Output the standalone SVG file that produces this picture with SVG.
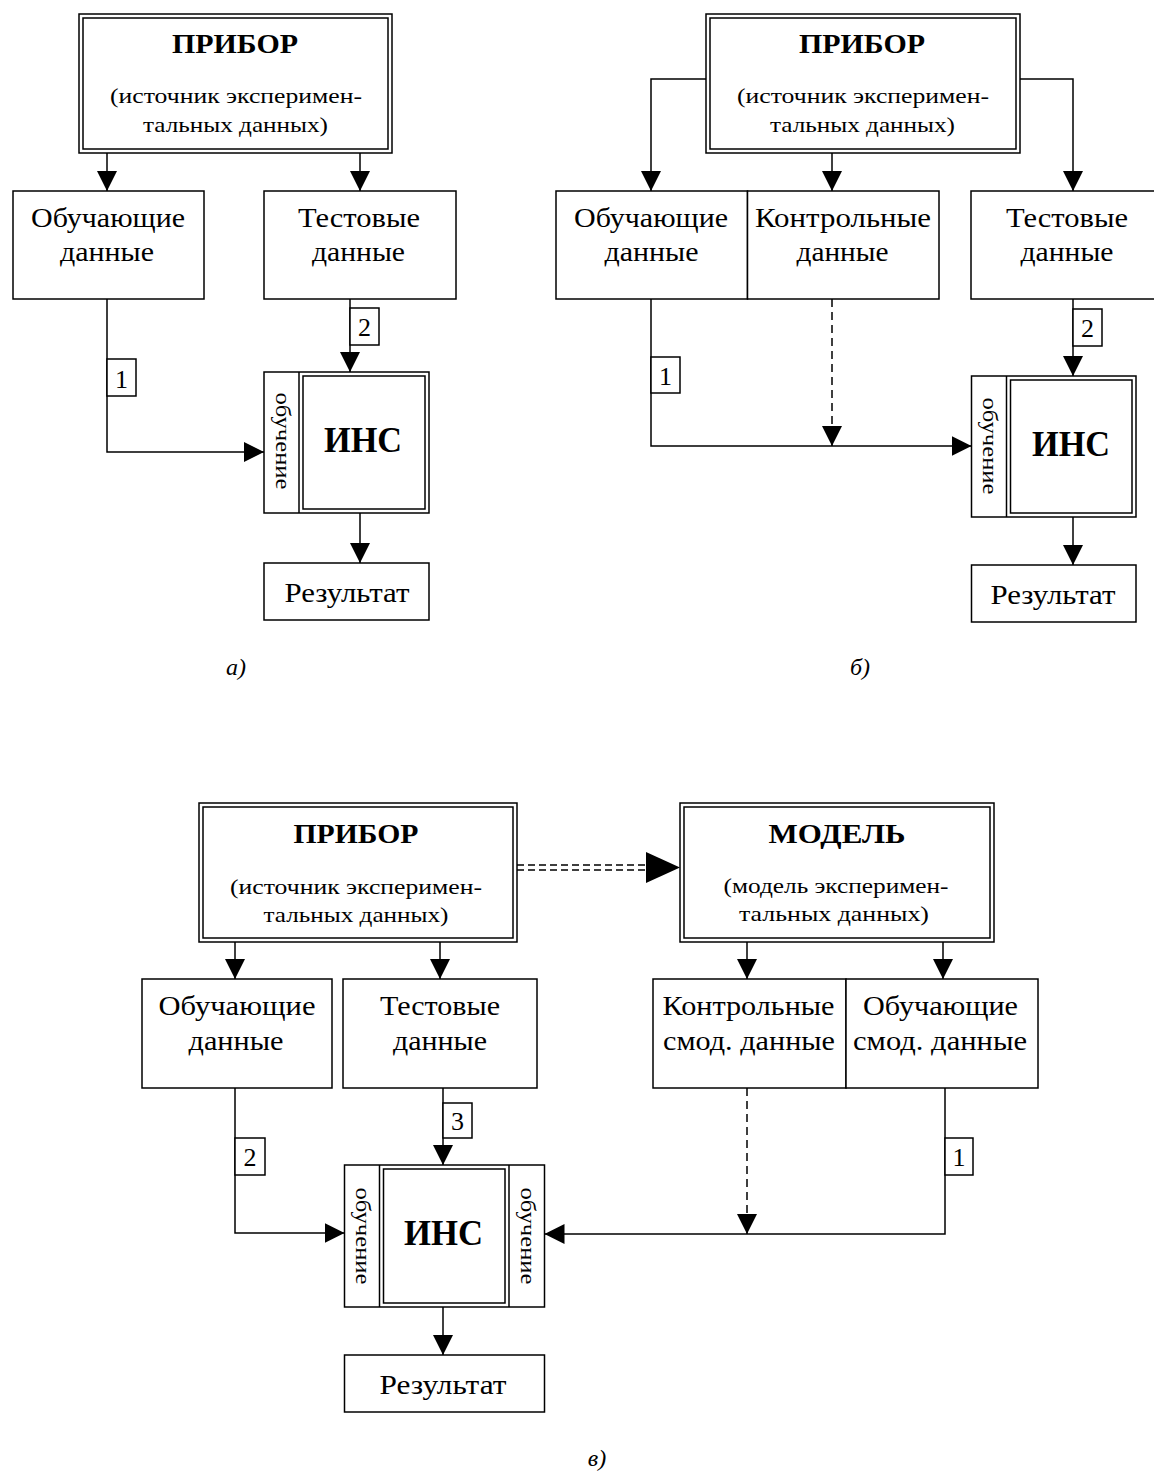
<svg xmlns="http://www.w3.org/2000/svg" width="1154" height="1474" viewBox="0 0 1154 1474">
<style>
.bx{fill:#fff;stroke:#000;stroke-width:1.5}
.ln{fill:none;stroke:#000;stroke-width:1.5}
.ds{stroke-dasharray:8 5}
text{font-family:"Liberation Serif","Times New Roman",serif;fill:#000;text-anchor:middle}
.ttl{font-size:28px;font-weight:bold}
.sub{font-size:22px}
.lbl{font-size:27px}
.ins{font-size:35px;font-weight:bold}
.rot{font-size:20px}
.num{font-size:26px}
.cap{font-size:24px;font-style:italic}
</style>
<defs>
<marker id="ah" markerWidth="20" markerHeight="20" refX="20" refY="10" orient="auto" markerUnits="userSpaceOnUse"><path d="M0,0 L20,10 L0,20 z" fill="#000"/></marker>
</defs>

<!-- ===== a) ===== -->
<g id="a-pribor">
<rect class="bx" x="79" y="14" width="313" height="139"/>
<rect class="bx" x="83" y="18" width="305" height="131"/>
<text class="ttl" x="235" y="53" textLength="126" lengthAdjust="spacingAndGlyphs">ПРИБОР</text>
<text class="sub" x="236" y="103" textLength="252" lengthAdjust="spacingAndGlyphs">(источник эксперимен-</text>
<text class="sub" x="235.5" y="132" textLength="185" lengthAdjust="spacingAndGlyphs">тальных данных)</text>
</g>
<g id="a-obuch">
<rect class="bx" x="13" y="191" width="191" height="108"/>
<text class="lbl" x="108" y="227" textLength="154" lengthAdjust="spacingAndGlyphs">Обучающие</text>
<text class="lbl" x="107" y="261" textLength="94" lengthAdjust="spacingAndGlyphs">данные</text>
</g>
<g id="a-test">
<rect class="bx" x="264" y="191" width="192" height="108"/>
<text class="lbl" x="359" y="227" textLength="122" lengthAdjust="spacingAndGlyphs">Тестовые</text>
<text class="lbl" x="358.5" y="261" textLength="93" lengthAdjust="spacingAndGlyphs">данные</text>
</g>
<g id="a-ins">
<rect class="bx" x="264" y="372" width="165" height="141"/>
<line class="ln" x1="299" y1="372" x2="299" y2="513"/>
<rect class="bx" x="303" y="376" width="122" height="133"/>
<text class="ins" x="363" y="452" textLength="78" lengthAdjust="spacingAndGlyphs">ИНС</text>
<text class="rot" transform="translate(281.5,441) rotate(90)" x="0" y="6" textLength="97" lengthAdjust="spacingAndGlyphs">обучение</text>
</g>
<g id="a-result">
<rect class="bx" x="264" y="563" width="165" height="57"/>
<text class="lbl" x="347" y="602" textLength="125" lengthAdjust="spacingAndGlyphs">Результат</text>
</g>
<g id="a-connectors">
<path class="ln" d="M107,153 V191" marker-end="url(#ah)"/>
<path class="ln" d="M360,153 V191" marker-end="url(#ah)"/>
<path class="ln" d="M107,299 V452 H264" marker-end="url(#ah)"/>
<path class="ln" d="M350,299 V372" marker-end="url(#ah)"/>
<path class="ln" d="M360,513 V563" marker-end="url(#ah)"/>
</g>
<g id="a-label-1">
<rect class="bx" x="107" y="359" width="29" height="37"/>
<text class="num" x="121.5" y="388">1</text>
</g>
<g id="a-label-2">
<rect class="bx" x="350" y="308" width="29" height="37"/>
<text class="num" x="364.5" y="336">2</text>
</g>
<text class="cap" x="236" y="675">а)</text>

<!-- ===== б) ===== -->
<g id="b-pribor">
<rect class="bx" x="706" y="14" width="314" height="139"/>
<rect class="bx" x="710" y="18" width="306" height="131"/>
<text class="ttl" x="862" y="53" textLength="126" lengthAdjust="spacingAndGlyphs">ПРИБОР</text>
<text class="sub" x="863" y="103" textLength="252" lengthAdjust="spacingAndGlyphs">(источник эксперимен-</text>
<text class="sub" x="862.5" y="132" textLength="185" lengthAdjust="spacingAndGlyphs">тальных данных)</text>
</g>
<g id="b-obuch">
<rect class="bx" x="556" y="191" width="191.5" height="108"/>
<text class="lbl" x="651" y="227" textLength="154" lengthAdjust="spacingAndGlyphs">Обучающие</text>
<text class="lbl" x="651.5" y="261" textLength="94" lengthAdjust="spacingAndGlyphs">данные</text>
</g>
<g id="b-kontrol">
<rect class="bx" x="747.5" y="191" width="191.5" height="108"/>
<text class="lbl" x="843" y="227" textLength="176" lengthAdjust="spacingAndGlyphs">Контрольные</text>
<text class="lbl" x="842.5" y="261" textLength="92" lengthAdjust="spacingAndGlyphs">данные</text>
</g>
<g id="b-test">
<rect class="bx" x="971" y="191" width="192" height="108"/>
<text class="lbl" x="1067" y="227" textLength="122" lengthAdjust="spacingAndGlyphs">Тестовые</text>
<text class="lbl" x="1067" y="261" textLength="93" lengthAdjust="spacingAndGlyphs">данные</text>
</g>
<g id="b-ins">
<rect class="bx" x="971.5" y="376" width="164.5" height="141"/>
<line class="ln" x1="1006.5" y1="376" x2="1006.5" y2="517"/>
<rect class="bx" x="1010.5" y="380" width="121.5" height="133"/>
<text class="ins" x="1071" y="456" textLength="78" lengthAdjust="spacingAndGlyphs">ИНС</text>
<text class="rot" transform="translate(989,446) rotate(90)" x="0" y="6" textLength="97" lengthAdjust="spacingAndGlyphs">обучение</text>
</g>
<g id="b-result">
<rect class="bx" x="971.5" y="565" width="164.5" height="57"/>
<text class="lbl" x="1053" y="604" textLength="125" lengthAdjust="spacingAndGlyphs">Результат</text>
</g>
<g id="b-connectors">
<path class="ln" d="M706,79 H651 V191" marker-end="url(#ah)"/>
<path class="ln" d="M832,153 V191" marker-end="url(#ah)"/>
<path class="ln" d="M1020,79 H1073 V191" marker-end="url(#ah)"/>
<path class="ln" d="M651,299 V446 H971.5" marker-end="url(#ah)"/>
<path class="ln ds" d="M832,299 V446" marker-end="url(#ah)"/>
<path class="ln" d="M1073,299 V376" marker-end="url(#ah)"/>
<path class="ln" d="M1073,517 V565" marker-end="url(#ah)"/>
</g>
<g id="b-label-1">
<rect class="bx" x="651" y="357" width="29" height="36"/>
<text class="num" x="665.5" y="385">1</text>
</g>
<g id="b-label-2">
<rect class="bx" x="1073" y="309" width="29" height="37"/>
<text class="num" x="1087.5" y="337">2</text>
</g>
<text class="cap" x="860" y="675">б)</text>

<!-- ===== в) ===== -->
<g id="c-pribor">
<rect class="bx" x="199" y="803" width="318" height="139"/>
<rect class="bx" x="203" y="807" width="310" height="131"/>
<text class="ttl" x="356" y="843" textLength="125" lengthAdjust="spacingAndGlyphs">ПРИБОР</text>
<text class="sub" x="356" y="894" textLength="252" lengthAdjust="spacingAndGlyphs">(источник эксперимен-</text>
<text class="sub" x="356" y="922" textLength="185" lengthAdjust="spacingAndGlyphs">тальных данных)</text>
</g>
<g id="c-model">
<rect class="bx" x="680" y="803" width="314" height="139"/>
<rect class="bx" x="684" y="807" width="306" height="131"/>
<text class="ttl" x="837" y="843" textLength="137" lengthAdjust="spacingAndGlyphs">МОДЕЛЬ</text>
<text class="sub" x="836" y="893" textLength="225" lengthAdjust="spacingAndGlyphs">(модель эксперимен-</text>
<text class="sub" x="834" y="921" textLength="190" lengthAdjust="spacingAndGlyphs">тальных данных)</text>
</g>
<g id="c-obuch">
<rect class="bx" x="142" y="979" width="190" height="109"/>
<text class="lbl" x="237" y="1015" textLength="157" lengthAdjust="spacingAndGlyphs">Обучающие</text>
<text class="lbl" x="236" y="1050" textLength="95" lengthAdjust="spacingAndGlyphs">данные</text>
</g>
<g id="c-test">
<rect class="bx" x="343" y="979" width="194" height="109"/>
<text class="lbl" x="440" y="1015" textLength="120" lengthAdjust="spacingAndGlyphs">Тестовые</text>
<text class="lbl" x="440" y="1050" textLength="94" lengthAdjust="spacingAndGlyphs">данные</text>
</g>
<g id="c-kontrol-smod">
<rect class="bx" x="653" y="979" width="193" height="109"/>
<text class="lbl" x="748.5" y="1015" textLength="172" lengthAdjust="spacingAndGlyphs">Контрольные</text>
<text class="lbl" x="749" y="1050" textLength="172" lengthAdjust="spacingAndGlyphs">смод. данные</text>
</g>
<g id="c-obuch-smod">
<rect class="bx" x="846" y="979" width="192" height="109"/>
<text class="lbl" x="940.5" y="1015" textLength="155" lengthAdjust="spacingAndGlyphs">Обучающие</text>
<text class="lbl" x="940" y="1050" textLength="174" lengthAdjust="spacingAndGlyphs">смод. данные</text>
</g>
<g id="c-ins">
<rect class="bx" x="344.5" y="1165" width="200" height="142"/>
<line class="ln" x1="379.5" y1="1165" x2="379.5" y2="1307"/>
<line class="ln" x1="509" y1="1165" x2="509" y2="1307"/>
<rect class="bx" x="383.5" y="1169" width="121.5" height="134"/>
<text class="ins" x="443.5" y="1245" textLength="79" lengthAdjust="spacingAndGlyphs">ИНС</text>
<text class="rot" transform="translate(362,1236) rotate(90)" x="0" y="6" textLength="97" lengthAdjust="spacingAndGlyphs">обучение</text>
<text class="rot" transform="translate(526.5,1236) rotate(90)" x="0" y="6" textLength="97" lengthAdjust="spacingAndGlyphs">обучение</text>
</g>
<g id="c-result">
<rect class="bx" x="344.5" y="1355" width="200" height="57"/>
<text class="lbl" x="443" y="1394" textLength="127" lengthAdjust="spacingAndGlyphs">Результат</text>
</g>
<g id="c-connectors">
<path class="ln" d="M235,942 V979" marker-end="url(#ah)"/>
<path class="ln" d="M440,942 V979" marker-end="url(#ah)"/>
<path class="ln" d="M747,942 V979" marker-end="url(#ah)"/>
<path class="ln" d="M943,942 V979" marker-end="url(#ah)"/>
<path class="ln ds" d="M517,865 H647" style="stroke-dasharray:7 4"/>
<path class="ln ds" d="M517,870 H647" style="stroke-dasharray:7 4"/>
<path d="M646,852 L680,867.5 L646,883 z" fill="#000"/>
<path class="ln" d="M235,1088 V1233 H344.5" marker-end="url(#ah)"/>
<path class="ln" d="M443,1088 V1165" marker-end="url(#ah)"/>
<path class="ln" d="M945,1088 V1234 H544.5" marker-end="url(#ah)"/>
<path class="ln ds" d="M747,1088 V1234" marker-end="url(#ah)"/>
<path class="ln" d="M443,1307 V1355" marker-end="url(#ah)"/>
</g>
<g id="c-label-2">
<rect class="bx" x="235" y="1138" width="30" height="37"/>
<text class="num" x="250" y="1166">2</text>
</g>
<g id="c-label-3">
<rect class="bx" x="443" y="1103" width="29" height="35"/>
<text class="num" x="457.5" y="1130">3</text>
</g>
<g id="c-label-1">
<rect class="bx" x="945" y="1138" width="28" height="37"/>
<text class="num" x="959" y="1166">1</text>
</g>
<text class="cap" x="597" y="1466">в)</text>
</svg>
